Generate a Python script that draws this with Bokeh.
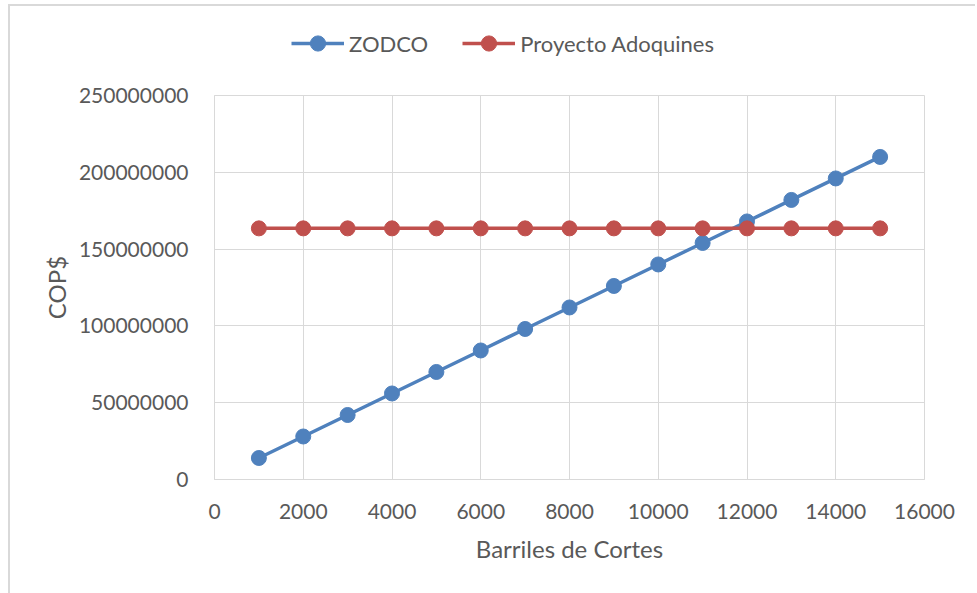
from bokeh.plotting import figure
from bokeh.layouts import column
from bokeh.models import Legend, LegendItem, FixedTicker, BasicTickFormatter, Range1d
from bokeh.embed import file_html
from bokeh.resources import INLINE

barriles = [1000, 2000, 3000, 4000, 5000, 6000, 7000, 8000, 9000, 10000, 11000, 12000, 13000, 14000, 15000]
zodco = [14000000, 28000000, 42000000, 56000000, 70000000, 84000000, 98000000, 112000000,
         126000000, 140000000, 154000000, 168000000, 182000000, 196000000, 210000000]
adoquines = [163500000] * 15
x_ticks = [0, 2000, 4000, 6000, 8000, 10000, 12000, 14000, 16000]
y_ticks = [0, 50000000, 100000000, 150000000, 200000000, 250000000]
series_names = ["ZODCO", "Proyecto Adoquines"]

FONT = "Lato"
TXT = "#595959"
GRID = "#d9d9d9"
BLUE = "#4f81bd"
RED = "#c0504d"

# main chart
p = figure(width=965, height=527, output_backend="svg", toolbar_location=None,
           x_range=Range1d(0, 16000), y_range=Range1d(0, 250000000),
           frame_width=710, frame_height=384,
           min_border_left=204, min_border_right=51, min_border_top=29, min_border_bottom=114)
p.outline_line_color = GRID
p.background_fill_color = "white"
p.border_fill_color = "white"

for ax in (p.xaxis[0], p.yaxis[0]):
    ax.axis_line_color = GRID
    ax.major_tick_line_color = None
    ax.minor_tick_line_color = None
    ax.major_label_text_font = FONT
    ax.major_label_text_font_size = "21px"
    ax.major_label_text_color = TXT
    ax.axis_label_text_font = FONT
    ax.axis_label_text_font_size = "24px"
    ax.axis_label_text_color = TXT
    ax.axis_label_text_font_style = "normal"

p.xaxis.ticker = FixedTicker(ticks=x_ticks)
p.yaxis.ticker = FixedTicker(ticks=y_ticks)
p.yaxis.formatter = BasicTickFormatter(use_scientific=False)
p.xaxis.formatter = BasicTickFormatter(use_scientific=False)
p.xaxis.axis_label = "Barriles de Cortes"
p.yaxis.axis_label = "COP$"
p.xaxis.major_label_standoff = 18
p.yaxis.major_label_standoff = 20
p.xaxis.axis_label_standoff = 12
p.yaxis.axis_label_standoff = 5

p.xgrid.ticker = FixedTicker(ticks=x_ticks)
p.ygrid.ticker = FixedTicker(ticks=y_ticks)
p.grid.grid_line_color = GRID
p.grid.grid_line_width = 1

p.line(barriles, zodco, line_color=BLUE, line_width=3.5)
p.scatter(barriles, zodco, size=15, fill_color=BLUE, line_color=BLUE)
p.line(barriles, adoquines, line_color=RED, line_width=3.5)
p.scatter(barriles, adoquines, size=15, fill_color=RED, line_color=RED)

# legend strip on top (its renderers use the same data, which lies outside its tiny ranges)
lf = figure(width=965, height=60, output_backend="svg", toolbar_location=None,
            x_range=Range1d(0, 1), y_range=Range1d(0, 1),
            x_axis_location=None, y_axis_location=None,
            min_border_left=0, min_border_right=0, min_border_top=0, min_border_bottom=0)
lf.grid.visible = False
lf.outline_line_color = None
lf.border_fill_color = "white"
ll1 = lf.line(barriles, zodco, line_color=BLUE, line_width=3.5)
lc1 = lf.scatter(barriles, zodco, size=15, fill_color=BLUE, line_color=BLUE)
ll2 = lf.line(barriles, adoquines, line_color=RED, line_width=3.5)
lc2 = lf.scatter(barriles, adoquines, size=15, fill_color=RED, line_color=RED)

legend = Legend(items=[LegendItem(label=series_names[0], renderers=[ll1, lc1]),
                       LegendItem(label=series_names[1], renderers=[ll2, lc2])],
                orientation="horizontal", location=(77, 4),
                label_text_font=FONT, label_text_font_size="22px", label_text_color=TXT,
                glyph_width=53, glyph_height=38, label_standoff=5, spacing=34,
                padding=0, margin=0, border_line_color=None, background_fill_alpha=0)
lf.add_layout(legend, "center")

layout = column(lf, p, spacing=0,
                styles={"border-left": "2px solid #d9d9d9", "border-top": "2px solid #d9d9d9",
                        "margin-left": "8px", "margin-top": "4px"})

open("out.html", "w").write(file_html(layout, INLINE))
